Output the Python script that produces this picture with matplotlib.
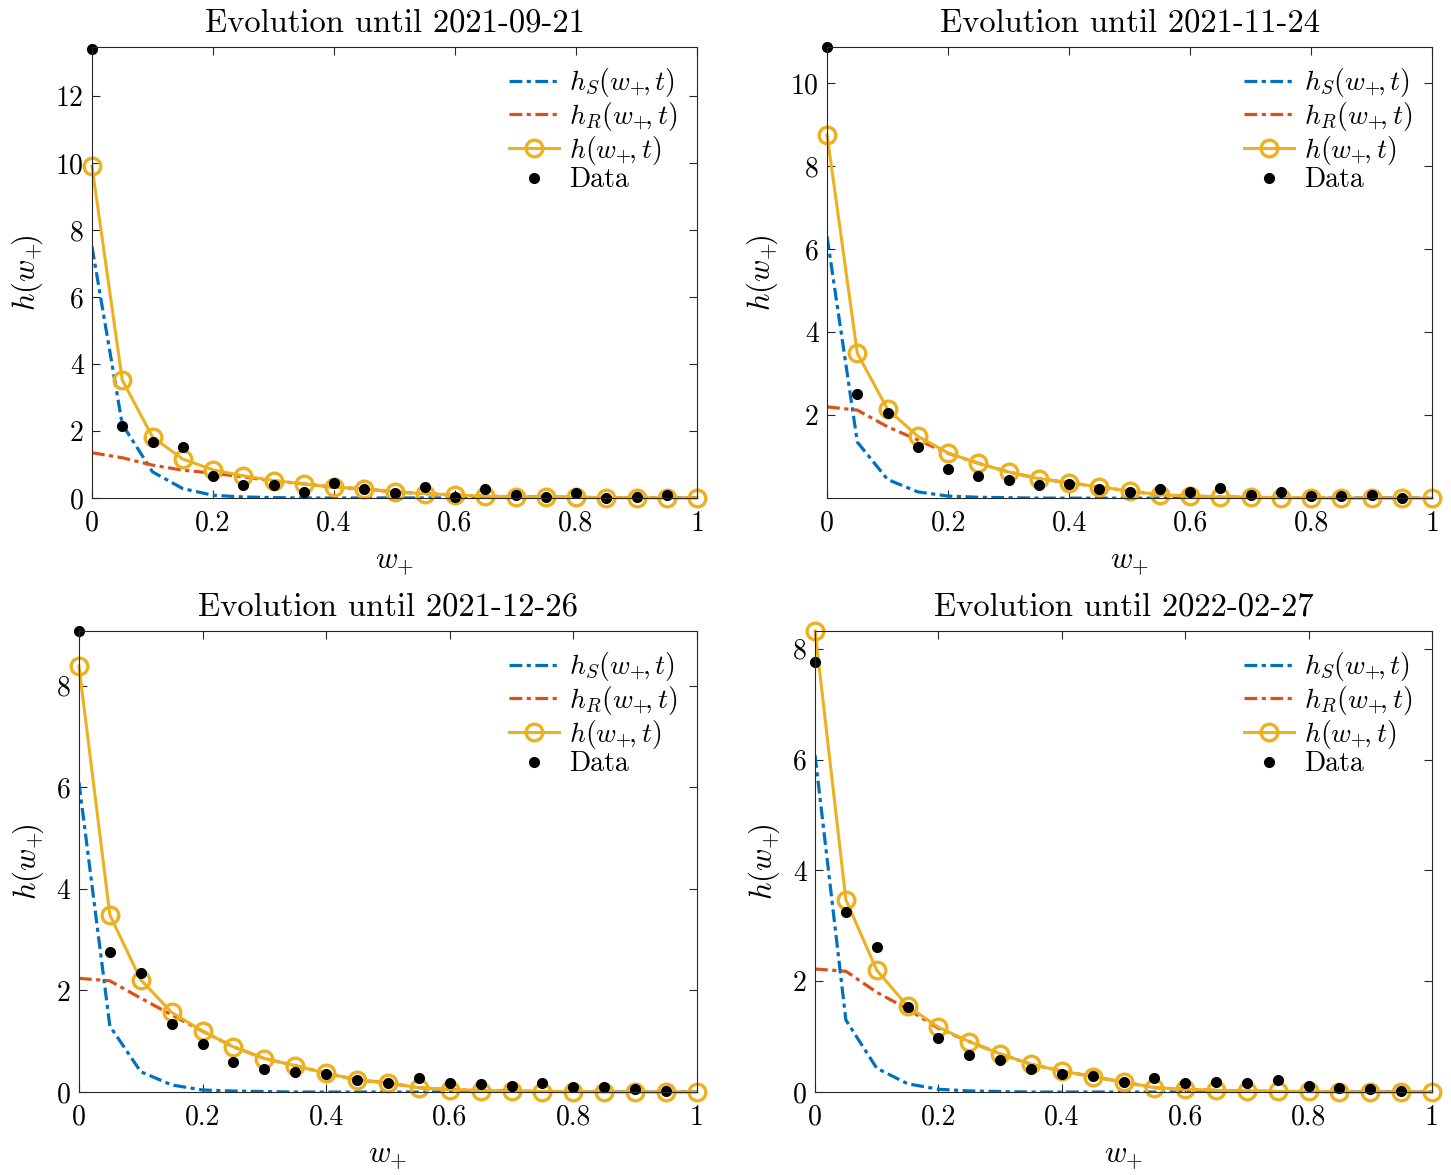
import numpy as np
import matplotlib
matplotlib.use('Agg')
import matplotlib.pyplot as plt
from matplotlib.ticker import MultipleLocator, FormatStrFormatter

plt.rcParams['font.family'] = 'serif'
plt.rcParams['font.serif'] = ['cmr10']
plt.rcParams['mathtext.fontset'] = 'cm'
plt.rcParams['axes.formatter.use_mathtext'] = True

# grid of wealth values
w_model = np.round(np.arange(0, 1.0001, 0.05), 2)   # 21 points
w_data = w_model[:-1]                                 # 20 points

titles = ['Evolution until 2021-09-21', 'Evolution until 2021-11-24',
          'Evolution until 2021-12-26', 'Evolution until 2022-02-27']

# --- 2021-09-21
hS_1 = [7.5, 2.2, 0.78, 0.28, 0.08, 0.03, 0.01, 0, 0, 0, 0, 0, 0, 0, 0, 0, 0, 0, 0, 0, 0]
hR_1 = [1.35, 1.2, 0.98, 0.83, 0.74, 0.63, 0.51, 0.42, 0.32, 0.27, 0.18, 0.13, 0.09,
        0.05, 0.04, 0.03, 0.02, 0.01, 0.01, 0, 0]
h_1 = [9.9, 3.52, 1.82, 1.16, 0.84, 0.66, 0.52, 0.42, 0.32, 0.27, 0.18, 0.13, 0.09,
       0.05, 0.04, 0.03, 0.02, 0.01, 0.01, 0, 0]
data_1 = [13.4, 2.16, 1.66, 1.53, 0.67, 0.38, 0.38, 0.19, 0.44, 0.26, 0.14, 0.32, 0.04,
          0.27, 0.09, 0.04, 0.14, 0.0, 0.04, 0.09]

# --- 2021-11-24
hS_2 = [6.3, 1.35, 0.45, 0.15, 0.05, 0.02, 0.01, 0, 0, 0, 0, 0, 0, 0, 0, 0, 0, 0, 0, 0, 0]
hR_2 = [2.2, 2.12, 1.72, 1.4, 1.08, 0.84, 0.63, 0.47, 0.37, 0.27, 0.17, 0.08, 0.05,
        0.03, 0.02, 0.01, 0.01, 0, 0, 0, 0]
h_2 = [8.75, 3.49, 2.14, 1.49, 1.09, 0.84, 0.63, 0.47, 0.37, 0.27, 0.17, 0.08, 0.05,
       0.03, 0.02, 0.01, 0.01, 0, 0, 0, 0]
data_2 = [10.87, 2.51, 2.06, 1.22, 0.71, 0.54, 0.43, 0.31, 0.35, 0.23, 0.15, 0.23, 0.14,
          0.25, 0.07, 0.15, 0.05, 0.05, 0.07, 0.01]

# --- 2021-12-26
hS_3 = [6.1, 1.3, 0.4, 0.14, 0.04, 0.02, 0.01, 0, 0, 0, 0, 0, 0, 0, 0, 0, 0, 0, 0, 0, 0]
hR_3 = [2.24, 2.19, 1.85, 1.52, 1.2, 0.89, 0.66, 0.52, 0.37, 0.24, 0.18, 0.085, 0.05,
        0.03, 0.02, 0.01, 0.01, 0, 0, 0, 0]
h_3 = [8.39, 3.49, 2.21, 1.57, 1.2, 0.89, 0.66, 0.52, 0.37, 0.24, 0.18, 0.085, 0.05,
       0.03, 0.02, 0.01, 0.01, 0, 0, 0, 0]
data_3 = [9.08, 2.76, 2.35, 1.34, 0.95, 0.59, 0.45, 0.39, 0.35, 0.24, 0.18, 0.27, 0.18,
          0.15, 0.12, 0.18, 0.09, 0.09, 0.06, 0.02]

# --- 2022-02-27
hS_4 = [6.08, 1.3, 0.43, 0.15, 0.05, 0.02, 0.01, 0, 0, 0, 0, 0, 0, 0, 0, 0, 0, 0, 0, 0, 0]
hR_4 = [2.22, 2.18, 1.8, 1.5, 1.15, 0.91, 0.69, 0.5, 0.38, 0.28, 0.18, 0.08, 0.05,
        0.03, 0.02, 0.01, 0.01, 0, 0, 0, 0]
h_4 = [8.32, 3.47, 2.2, 1.55, 1.17, 0.91, 0.69, 0.5, 0.38, 0.28, 0.18, 0.08, 0.05,
       0.03, 0.02, 0.01, 0.01, 0, 0, 0, 0]
data_4 = [7.76, 3.25, 2.62, 1.53, 0.97, 0.66, 0.58, 0.41, 0.32, 0.29, 0.18, 0.26, 0.17,
          0.19, 0.17, 0.22, 0.11, 0.08, 0.05, 0.02]

hS_all = [hS_1, hS_2, hS_3, hS_4]
hR_all = [hR_1, hR_2, hR_3, hR_4]
h_all = [h_1, h_2, h_3, h_4]
data_all = [data_1, data_2, data_3, data_4]
ylims = [(0, 13.46), (0.004, 10.87), (0, 9.08), (0, 8.32)]

c_blue = (0.0, 0.447, 0.741)
c_red = (0.85, 0.325, 0.098)
c_yel = (0.929, 0.694, 0.125)
dashdot = (0, (4, 1.4, 1.3, 1.4))

fig = plt.figure(figsize=(14.51, 11.75), dpi=100)
positions = [[0.0634, 0.5762, 0.417, 0.3838],
             [0.5700, 0.5762, 0.417, 0.3838],
             [0.0544, 0.0706, 0.4259, 0.3924],
             [0.5617, 0.0706, 0.4252, 0.3924]]

for k in range(4):
    ax = fig.add_axes(positions[k])
    ax.plot(w_model, hS_all[k], color=c_blue, ls=dashdot, lw=2.3,
            label=r'$h_S(w_{{+}}\!,t)$')
    ax.plot(w_model, hR_all[k], color=c_red, ls=dashdot, lw=2.3,
            label=r'$h_R(w_{{+}}\!,t)$')
    ax.plot(w_model, h_all[k], color=c_yel, ls='-', lw=2.2, marker='o', ms=12,
            mfc='none', mew=2.4, label=r'$h(w_{{+}}\!,t)$', clip_on=False)
    ax.plot(w_data, data_all[k], 'o', color='black', ms=7, label='Data',
            clip_on=False)
    ax.set_xlim(0, 1)
    ax.set_ylim(*ylims[k])
    ax.xaxis.set_major_locator(MultipleLocator(0.2))
    ax.yaxis.set_major_locator(MultipleLocator(2))
    ax.xaxis.set_major_formatter(FormatStrFormatter('%g'))
    ax.yaxis.set_major_formatter(FormatStrFormatter('%g'))
    ax.set_title(titles[k], fontsize=23.5, pad=11)
    ax.set_xlabel(r'$w_{{+}}$', fontsize=22, labelpad=9)
    ax.set_ylabel(r'$h(w_{{+}}\!)$', fontsize=22, labelpad=8)
    ax.tick_params(direction='in', top=True, right=True, labelsize=20,
                   length=6, color='#262626')
    ax.tick_params(axis='x', pad=9)
    ax.tick_params(axis='y', pad=6)
    for s in ax.spines.values():
        s.set_color('#262626')
        s.set_linewidth(0.8)
    ax.legend(loc='upper right', frameon=False, fontsize=20,
              handlelength=1.8, handletextpad=0.35, labelspacing=0.02,
              borderaxespad=0.25, borderpad=0.45)

fig.savefig('out.png', dpi=100)
